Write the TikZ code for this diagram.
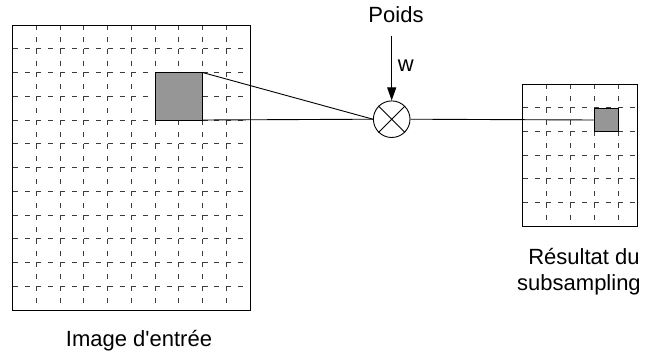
\documentclass[tikz,border=0pt]{standalone}
\usepackage{fontspec}
\newfontfamily\lblfont{Liberation Sans}
\usetikzlibrary{arrows.meta}
\definecolor{sqgray}{RGB}{150,150,150}
\definecolor{gridgray}{RGB}{60,60,60}
\tikzset{
  gridline/.style={draw=gridgray,line width=0.9pt,dash pattern=on 5pt off 6.87pt},
  frame/.style={draw=black,line width=1pt},
  wire/.style={draw=black,line width=0.9pt},
  graysq/.style={draw=black,fill=sqgray,line width=1pt,inner sep=0pt,outer sep=0pt},
  lbl/.style={font=\lblfont\fontsize{22}{26}\selectfont,inner sep=0pt,anchor=base},
}
\begin{document}
\begin{tikzpicture}[x=1pt,y=-1pt]
\useasboundingbox (0,0) rectangle (649,354);
% left grid
\foreach \k in {1,...,11} {
  \draw[gridline] (12.7,25+\k*23.75) -- (250,25+\k*23.75);
}
\foreach \k in {1,...,9} {
  \draw[gridline] (12.7+\k*23.73,25) -- (12.7+\k*23.73,310);
}
\draw[frame] (12.7,25) rectangle (250,310);
\node[graysq,minimum width=47.46pt,minimum height=47.5pt,anchor=north west] (big) at (155.1,72.5) {};
% right grid
\foreach \k in {1,...,5} {
  \draw[gridline] (522.7,84+\k*23.67) -- (637.3,84+\k*23.67);
}
\foreach \k in {1,...,4} {
  \draw[gridline] (522.7+\k*23.9,84) -- (522.7+\k*23.9,226);
}
\draw[frame] (522.7,84) rectangle (637.3,226);
\node[graysq,minimum width=23.9pt,minimum height=23.4pt,anchor=north west] (small) at (594.4,108.3) {};
% multiplier
\node[draw,circle,line width=0.9pt,minimum size=36.6pt,inner sep=0pt] (mul) at (391.7,119.2) {};
\draw[line width=0.9pt] (mul.north west) -- (mul.south east) (mul.north east) -- (mul.south west);
\coordinate (wtop) at (391.7,35.7);
\draw[wire,-{Triangle[length=13pt,width=9pt]}] (wtop) -- (mul.north);
\draw[wire] (big.north east) -- (mul.west);
\draw[wire] (big.south east) -- (mul.west);
\draw[wire] (mul.east) -- (small.west);
% labels
\node[lbl] (poids) at (396,22.7) {Poids};
\node[lbl] (w) at (405.8,71.7) {w};
\node[lbl] (img) at (139,346) {Image d'entrée};
\node[lbl] (res1) at (584,264.3) {Résultat du};
\node[lbl] (res2) at (579,290) {subsampling};
\end{tikzpicture}
\end{document}
